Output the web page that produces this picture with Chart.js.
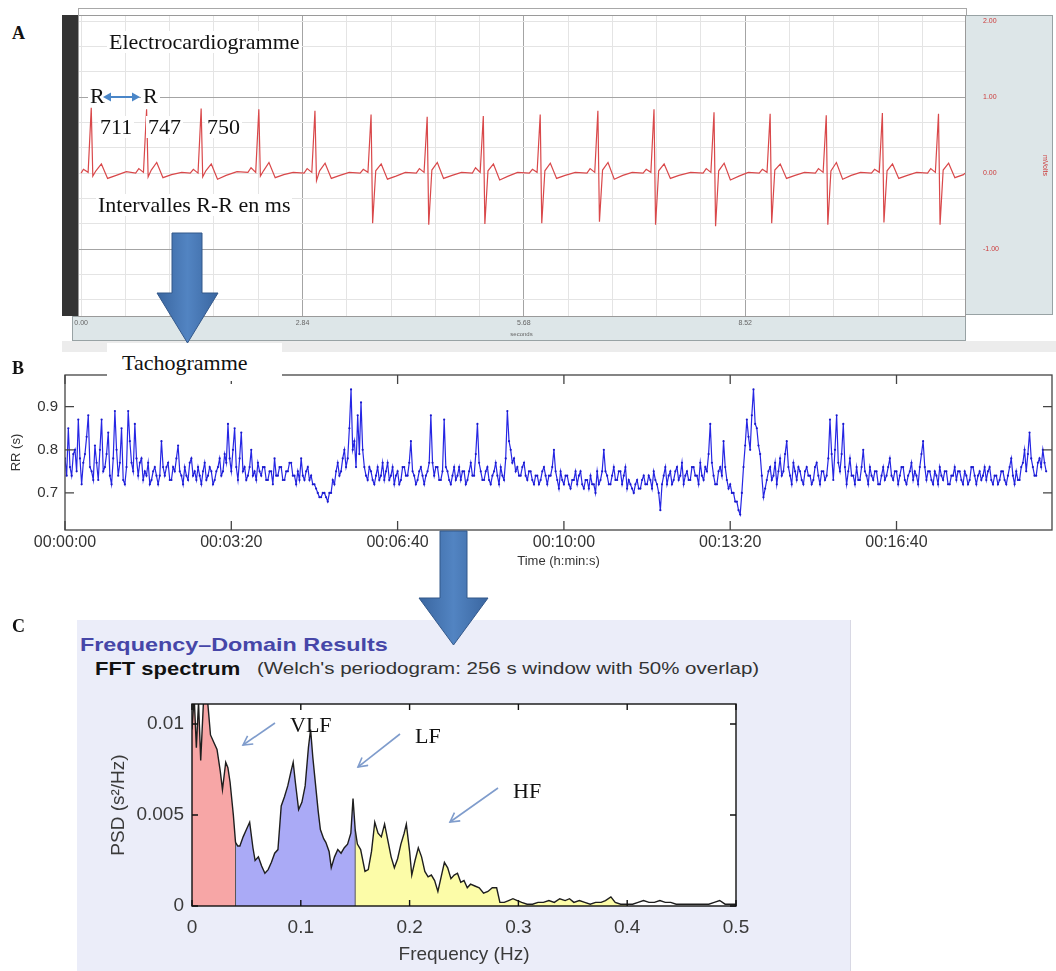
<!DOCTYPE html>
<html lang="fr">
<head>
<meta charset="UTF-8">
<title>ECG, tachogramme et spectre FFT</title>
<script src="https://cdn.jsdelivr.net/npm/chart.js"></script>
<style>
  body { margin: 0; background: #fff; }
  #page { position: relative; width: 1056px; height: 971px; overflow: hidden; }
  .box { position: absolute; }
  .txt { position: absolute; white-space: nowrap; line-height: 1; }
  .serif { font-family: "Liberation Serif", serif; color: #111; }
  .sans { font-family: "Liberation Sans", Arial, sans-serif; }
  .white { background: #fff; padding: 0 2px; }
  .stretch { transform-origin: 0 50%; display: inline-block; }
</style>
</head>
<body>
<div id="page">
  <!-- fond lavande du panneau C -->
  <div class="box" style="left:77px;top:620px;width:773px;height:351px;background:#ebedf9;border-right:1px solid #d8d8e4;"></div>

  <div class="box" style="left:62px;top:0;width:994px;height:352px;"><canvas id="ecg"></canvas></div>
  <div class="box" style="left:0;top:340px;width:1056px;height:235px;"><canvas id="tacho"></canvas></div>
  <div class="box" style="left:77px;top:690px;width:773px;height:281px;"><canvas id="psd"></canvas></div>

  <!-- textes -->
  <div class="txt serif" style="left:12px;top:24px;font-size:18px;font-weight:bold;">A</div>
  <div class="txt serif" style="left:12px;top:359px;font-size:18px;font-weight:bold;">B</div>
  <div class="txt serif" style="left:12px;top:617px;font-size:18px;font-weight:bold;">C</div>

  <div class="txt serif white" style="left:107px;top:31px;font-size:22px;">Electrocardiogramme</div>
  <div class="txt serif white" style="left:88px;top:85px;font-size:22px;">R</div>
  <div class="txt serif white" style="left:141px;top:85px;font-size:22px;">R</div>
  <div class="txt serif white" style="left:98px;top:116px;font-size:22px;">711</div>
  <div class="txt serif white" style="left:146px;top:116px;font-size:22px;">747</div>
  <div class="txt serif white" style="left:205px;top:116px;font-size:22px;">750</div>
  <div class="txt serif white" style="left:96px;top:194px;font-size:22px;">Intervalles R-R en ms</div>

  <div class="box" style="left:107px;top:343px;width:175px;height:38px;background:#fff;"></div>
  <div class="txt serif" style="left:122px;top:352px;font-size:22px;">Tachogramme</div>

  <div class="txt sans" style="left:80px;top:635px;font-size:19px;font-weight:bold;color:#4646a8;">
    <span class="stretch" style="transform:scaleX(1.23);">Frequency&ndash;Domain Results</span></div>
  <div class="txt sans" style="left:95px;top:660px;font-size:18px;font-weight:bold;color:#111;">
    <span class="stretch" style="transform:scaleX(1.22);">FFT spectrum</span></div>
  <div class="txt sans" style="left:257px;top:661px;font-size:16px;color:#333;">
    <span class="stretch" style="transform:scaleX(1.28);">(Welch's periodogram: 256 s window with 50% overlap)</span></div>

  <div class="txt serif" style="left:290px;top:714px;font-size:22px;">VLF</div>
  <div class="txt serif" style="left:415px;top:725px;font-size:22px;">LF</div>
  <div class="txt serif" style="left:513px;top:780px;font-size:22px;">HF</div>

  <svg class="box" style="left:0;top:0;" width="1056" height="971">
    <defs>
      <linearGradient id="bigArrow" x1="0" y1="0" x2="1" y2="0">
        <stop offset="0" stop-color="#3a66a0"/>
        <stop offset="0.5" stop-color="#5284c2"/>
        <stop offset="1" stop-color="#3a66a0"/>
      </linearGradient>
      <marker id="openHead" markerWidth="12" markerHeight="12" refX="10" refY="6" orient="auto" markerUnits="userSpaceOnUse">
        <path d="M1,1 L10,6 L1,11" fill="none" stroke="#7f9ccc" stroke-width="1.6"/>
      </marker>
    </defs>
    <polygon points="172,233 202,233 202,293 218,293 187.5,343 157,293 172,293" fill="url(#bigArrow)" stroke="#33588a" stroke-width="1"/>
    <polygon points="440,531 467,531 467,598 488,598 453.5,645 419,598 440,598" fill="url(#bigArrow)" stroke="#33588a" stroke-width="1"/>
    <line x1="109" y1="97" x2="134" y2="97" stroke="#4a86c8" stroke-width="2"/>
    <polygon points="103,97 111,92.5 111,101.5" fill="#4a86c8"/>
    <polygon points="140,97 132,92.5 132,101.5" fill="#4a86c8"/>
    <line x1="275" y1="723" x2="243" y2="745" stroke="#7f9ccc" stroke-width="1.6" marker-end="url(#openHead)"/>
    <line x1="400" y1="734" x2="358" y2="767" stroke="#7f9ccc" stroke-width="1.6" marker-end="url(#openHead)"/>
    <line x1="498" y1="788" x2="450" y2="822" stroke="#7f9ccc" stroke-width="1.6" marker-end="url(#openHead)"/>
  </svg>
</div>

<script>
// ---- A : électrocardiogramme (temps en s, tension en mV) ----
const ecgTime = [
  0.00, 0.03, 0.09, 0.13, 0.15, 0.19, 0.26, 0.34, 0.45, 0.58,
  0.70, 0.74, 0.80, 0.84, 0.86, 0.90, 0.97, 1.05, 1.16, 1.29,
  1.40, 1.44, 1.50, 1.54, 1.56, 1.60, 1.67, 1.75, 1.86, 2.00,
  2.14, 2.18, 2.24, 2.28, 2.30, 2.34, 2.41, 2.49, 2.60, 2.72,
  2.86, 2.90, 2.96, 3.00, 3.02, 3.06, 3.13, 3.21, 3.32, 3.44,
  3.58, 3.62, 3.68, 3.72, 3.74, 3.78, 3.85, 3.93, 4.04, 4.16,
  4.30, 4.34, 4.40, 4.44, 4.46, 4.50, 4.57, 4.65, 4.76, 4.88,
  5.02, 5.06, 5.12, 5.16, 5.18, 5.22, 5.29, 5.37, 5.48, 5.60,
  5.75, 5.79, 5.85, 5.89, 5.91, 5.95, 6.02, 6.10, 6.21, 6.34,
  6.49, 6.53, 6.59, 6.63, 6.65, 6.69, 6.76, 6.84, 6.95, 7.07,
  7.21, 7.25, 7.31, 7.35, 7.37, 7.41, 7.48, 7.56, 7.67, 7.82,
  7.98, 8.02, 8.08, 8.12, 8.14, 8.18, 8.25, 8.33, 8.44, 8.56,
  8.70, 8.74, 8.80, 8.84, 8.86, 8.90, 8.97, 9.05, 9.16, 9.28,
  9.42, 9.46, 9.52, 9.56, 9.58, 9.62, 9.69, 9.77, 9.88, 10.00,
  10.14, 10.18, 10.24, 10.28, 10.30, 10.34, 10.41, 10.49, 10.60, 10.72,
  10.86, 10.90, 10.96, 11.00, 11.02, 11.06, 11.13, 11.21, 11.32, 11.34
];
const ecgMv = [
  0.00, 0.05, 0.01, 0.86, -0.04, 0.03, 0.12, -0.07, -0.03, 0.02,
  0.00, 0.06, 0.01, 0.84, -0.05, 0.04, 0.14, -0.06, -0.02, 0.01,
  0.00, 0.05, 0.00, 0.85, -0.05, 0.03, 0.12, -0.08, -0.03, 0.02,
  0.01, 0.07, 0.01, 0.84, -0.04, 0.03, 0.14, -0.06, -0.02, 0.01,
  0.00, 0.06, 0.01, 0.82, -0.10, 0.03, 0.13, -0.07, -0.03, 0.01,
  0.00, 0.05, 0.01, 0.77, -0.66, 0.03, 0.12, -0.08, -0.04, 0.01,
  0.00, 0.06, 0.01, 0.74, -0.68, 0.04, 0.14, -0.07, -0.03, 0.01,
  0.00, 0.07, 0.01, 0.75, -0.67, 0.03, 0.12, -0.09, -0.04, 0.01,
  0.00, 0.05, 0.01, 0.77, -0.66, 0.03, 0.13, -0.07, -0.03, 0.01,
  0.00, 0.06, 0.01, 0.82, -0.64, 0.04, 0.14, -0.08, -0.03, 0.01,
  0.00, 0.05, 0.01, 0.84, -0.68, 0.03, 0.12, -0.07, -0.03, 0.01,
  0.00, 0.06, 0.01, 0.80, -0.70, 0.03, 0.13, -0.09, -0.04, 0.01,
  0.00, 0.05, 0.01, 0.78, -0.66, 0.04, 0.12, -0.07, -0.03, 0.01,
  0.00, 0.06, 0.01, 0.76, -0.68, 0.03, 0.14, -0.08, -0.03, 0.01,
  0.00, 0.05, 0.01, 0.79, -0.65, 0.03, 0.12, -0.07, -0.03, 0.01,
  0.00, 0.06, 0.01, 0.78, -0.68, 0.04, 0.13, -0.06, -0.02, 0.00
];
const ecgXStep = 0.568;                       // une division de la grille
const ecgXLabels = ['0.00', '2.84', '5.68', '8.52'];
const ecgYMajor = [-1, 0, 1, 2];
const ecgYLabels = ['-1.00', '0.00', '1.00', '2.00'];

// ---- B : tachogramme, un intervalle RR toutes les 2 s (une ligne = 40 s) ----
const tachoStep = 2;
const tachoRR = [
  0.78, 0.74, 0.85, 0.76, 0.74, 0.79, 0.80, 0.75, 0.87, 0.78, 0.72, 0.77, 0.79, 0.83, 0.88, 0.76, 0.75, 0.73, 0.81, 0.77,
  0.73, 0.80, 0.87, 0.75, 0.76, 0.79, 0.84, 0.74, 0.72, 0.78, 0.89, 0.80, 0.74, 0.77, 0.85, 0.73, 0.72, 0.76, 0.89, 0.82,
  0.77, 0.75, 0.86, 0.78, 0.74, 0.77, 0.78, 0.73, 0.75, 0.74, 0.77, 0.72, 0.73, 0.75, 0.76, 0.74, 0.72, 0.74, 0.82, 0.76,
  0.74, 0.76, 0.77, 0.73, 0.73, 0.76, 0.75, 0.78, 0.81, 0.75, 0.74, 0.72, 0.76, 0.74, 0.73, 0.77, 0.78, 0.74, 0.75, 0.73,
  0.76, 0.74, 0.72, 0.75, 0.77, 0.73, 0.74, 0.76, 0.75, 0.72, 0.73, 0.75, 0.76, 0.78, 0.74, 0.75, 0.79, 0.77, 0.86, 0.78,
  0.75, 0.80, 0.85, 0.76, 0.73, 0.78, 0.84, 0.75, 0.76, 0.73, 0.74, 0.76, 0.80, 0.74, 0.75, 0.73, 0.77, 0.75, 0.74, 0.76,
  0.76, 0.73, 0.73, 0.75, 0.75, 0.72, 0.78, 0.74, 0.74, 0.76, 0.76, 0.73, 0.73, 0.75, 0.75, 0.77, 0.77, 0.74, 0.74, 0.72,
  0.75, 0.73, 0.78, 0.74, 0.73, 0.75, 0.76, 0.73, 0.74, 0.72, 0.72, 0.71, 0.70, 0.69, 0.69, 0.70, 0.70, 0.69, 0.68, 0.70,
  0.70, 0.73, 0.72, 0.75, 0.77, 0.74, 0.75, 0.78, 0.80, 0.76, 0.78, 0.85, 0.94, 0.80, 0.82, 0.76, 0.88, 0.79, 0.91, 0.80,
  0.76, 0.74, 0.73, 0.76, 0.75, 0.73, 0.72, 0.74, 0.76, 0.73, 0.74, 0.77, 0.73, 0.75, 0.77, 0.73, 0.74, 0.76, 0.72, 0.74,
  0.75, 0.72, 0.73, 0.76, 0.76, 0.74, 0.74, 0.77, 0.82, 0.75, 0.74, 0.72, 0.73, 0.75, 0.76, 0.74, 0.72, 0.74, 0.75, 0.77,
  0.88, 0.77, 0.74, 0.76, 0.76, 0.73, 0.73, 0.75, 0.87, 0.76, 0.75, 0.73, 0.72, 0.74, 0.76, 0.73, 0.74, 0.76, 0.73, 0.75,
  0.75, 0.72, 0.73, 0.75, 0.77, 0.74, 0.74, 0.79, 0.86, 0.77, 0.75, 0.73, 0.73, 0.75, 0.76, 0.73, 0.72, 0.74, 0.75, 0.77,
  0.74, 0.72, 0.76, 0.74, 0.73, 0.78, 0.89, 0.82, 0.80, 0.77, 0.78, 0.75, 0.76, 0.74, 0.74, 0.76, 0.77, 0.74, 0.73, 0.75,
  0.75, 0.73, 0.72, 0.74, 0.74, 0.72, 0.73, 0.75, 0.76, 0.74, 0.72, 0.74, 0.74, 0.76, 0.80, 0.75, 0.73, 0.71, 0.75, 0.73,
  0.72, 0.74, 0.74, 0.72, 0.71, 0.73, 0.73, 0.75, 0.72, 0.74, 0.75, 0.72, 0.71, 0.73, 0.73, 0.71, 0.74, 0.72, 0.72, 0.70,
  0.75, 0.72, 0.73, 0.75, 0.80, 0.75, 0.74, 0.72, 0.72, 0.74, 0.76, 0.73, 0.73, 0.75, 0.75, 0.72, 0.74, 0.76, 0.71, 0.73,
  0.72, 0.71, 0.70, 0.72, 0.73, 0.71, 0.71, 0.73, 0.74, 0.72, 0.72, 0.74, 0.73, 0.71, 0.75, 0.73, 0.72, 0.70, 0.66, 0.72,
  0.74, 0.76, 0.72, 0.74, 0.75, 0.72, 0.73, 0.75, 0.76, 0.73, 0.74, 0.77, 0.72, 0.74, 0.75, 0.73, 0.73, 0.76, 0.76, 0.74,
  0.74, 0.72, 0.77, 0.74, 0.73, 0.76, 0.75, 0.79, 0.86, 0.77, 0.74, 0.72, 0.72, 0.75, 0.76, 0.74, 0.82, 0.76, 0.73, 0.71,
  0.72, 0.70, 0.70, 0.68, 0.68, 0.66, 0.65, 0.70, 0.76, 0.81, 0.87, 0.83, 0.80, 0.88, 0.94, 0.86, 0.85, 0.81, 0.79, 0.74,
  0.69, 0.71, 0.73, 0.75, 0.76, 0.73, 0.74, 0.77, 0.72, 0.75, 0.78, 0.74, 0.75, 0.79, 0.82, 0.76, 0.74, 0.72, 0.77, 0.75,
  0.73, 0.76, 0.75, 0.73, 0.72, 0.75, 0.76, 0.74, 0.74, 0.72, 0.73, 0.76, 0.77, 0.74, 0.72, 0.75, 0.75, 0.73, 0.74, 0.78,
  0.87, 0.79, 0.73, 0.80, 0.88, 0.77, 0.75, 0.79, 0.86, 0.76, 0.72, 0.75, 0.78, 0.74, 0.74, 0.72, 0.76, 0.73, 0.73, 0.76,
  0.80, 0.75, 0.74, 0.72, 0.76, 0.74, 0.73, 0.75, 0.75, 0.72, 0.72, 0.74, 0.76, 0.73, 0.74, 0.76, 0.78, 0.74, 0.73, 0.75,
  0.75, 0.72, 0.74, 0.76, 0.76, 0.73, 0.72, 0.74, 0.75, 0.77, 0.73, 0.75, 0.74, 0.72, 0.76, 0.79, 0.82, 0.76, 0.73, 0.75,
  0.75, 0.73, 0.72, 0.75, 0.74, 0.72, 0.76, 0.74, 0.73, 0.75, 0.75, 0.72, 0.72, 0.74, 0.74, 0.76, 0.73, 0.75, 0.75, 0.73,
  0.72, 0.75, 0.74, 0.72, 0.73, 0.76, 0.76, 0.74, 0.72, 0.74, 0.75, 0.73, 0.74, 0.76, 0.73, 0.75, 0.76, 0.73, 0.72, 0.74,
  0.74, 0.72, 0.73, 0.75, 0.75, 0.73, 0.72, 0.74, 0.76, 0.78, 0.74, 0.72, 0.75, 0.73, 0.73, 0.76, 0.77, 0.80, 0.75, 0.79,
  0.84, 0.78, 0.76, 0.74, 0.74, 0.77, 0.78, 0.76, 0.80, 0.77, 0.75
];
const tachoTickSec = [0, 200, 400, 600, 800, 1000];
const tachoTickLabels = ['00:00:00', '00:03:20', '00:06:40', '00:10:00', '00:13:20', '00:16:40'];
const tachoYTicks = [0.7, 0.8, 0.9];
const tachoYLabels = ['0.7', '0.8', '0.9'];

// ---- C : spectre FFT (Hz, s²/Hz) ----
const specFreq = [
  0.000, 0.002, 0.004, 0.006, 0.008, 0.011, 0.014, 0.017, 0.020, 0.023,
  0.026, 0.028, 0.031, 0.033, 0.035, 0.038, 0.040, 0.042, 0.044, 0.047,
  0.050, 0.053, 0.056, 0.058, 0.061, 0.064, 0.067, 0.070, 0.073, 0.076,
  0.079, 0.082, 0.085, 0.088, 0.091, 0.093, 0.095, 0.098, 0.101, 0.104,
  0.107, 0.109, 0.111, 0.113, 0.116, 0.118, 0.121, 0.123, 0.126, 0.128,
  0.131, 0.134, 0.137, 0.140, 0.143, 0.146, 0.148, 0.150, 0.152, 0.155,
  0.159, 0.162, 0.165, 0.168, 0.171, 0.174, 0.177, 0.180, 0.183, 0.186,
  0.189, 0.192, 0.195, 0.197, 0.200, 0.202, 0.205, 0.208, 0.211, 0.214,
  0.217, 0.220, 0.223, 0.226, 0.229, 0.232, 0.235, 0.238, 0.241, 0.244,
  0.247, 0.250, 0.253, 0.256, 0.260, 0.264, 0.268, 0.272, 0.276, 0.280,
  0.283, 0.287, 0.291, 0.295, 0.299, 0.303, 0.308, 0.313, 0.318, 0.323,
  0.328, 0.333, 0.338, 0.343, 0.347, 0.351, 0.356, 0.361, 0.366, 0.371,
  0.376, 0.380, 0.385, 0.389, 0.394, 0.400, 0.405, 0.410, 0.415, 0.420,
  0.425, 0.430, 0.435, 0.440, 0.445, 0.450, 0.455, 0.460, 0.465, 0.470,
  0.475, 0.480, 0.485, 0.490, 0.495, 0.500
];
const specPsd = [
  0.0097, 0.0115, 0.0087, 0.0112, 0.0080, 0.0118, 0.0115, 0.0094, 0.0090, 0.0086,
  0.0074, 0.0064, 0.0079, 0.0076, 0.0068, 0.0050, 0.0035, 0.0033, 0.0033, 0.0038,
  0.0042, 0.0046, 0.0032, 0.0025, 0.0027, 0.0022, 0.0018, 0.0020, 0.0024, 0.0029,
  0.0031, 0.0055, 0.0060, 0.0066, 0.0074, 0.0079, 0.0068, 0.0053, 0.0057, 0.0066,
  0.0087, 0.0097, 0.0082, 0.0070, 0.0052, 0.0042, 0.0037, 0.0035, 0.0030, 0.0021,
  0.0027, 0.0031, 0.0029, 0.0032, 0.0034, 0.0040, 0.0059, 0.0042, 0.0034, 0.0031,
  0.0019, 0.0020, 0.0030, 0.0046, 0.0040, 0.0038, 0.0045, 0.0036, 0.0027, 0.0021,
  0.0026, 0.0034, 0.0040, 0.0045, 0.0030, 0.0017, 0.0025, 0.0032, 0.0027, 0.0019,
  0.0016, 0.0017, 0.0014, 0.0008, 0.0016, 0.0024, 0.0021, 0.0015, 0.0017, 0.0018,
  0.0013, 0.0014, 0.0010, 0.0012, 0.0011, 0.0010, 0.0007, 0.0008, 0.0010, 0.0010,
  0.0002, 0.0002, 0.0003, 0.0004, 0.0003, 0.0002, 0.0001, 0.0001, 0.0002, 0.0002,
  0.0003, 0.0002, 0.0004, 0.0003, 0.0004, 0.0002, 0.0003, 0.0002, 0.0001, 0.0002,
  0.0002, 0.0003, 0.0005, 0.0002, 0.0001, 0.0001, 0.0001, 0.0002, 0.0003, 0.0002,
  0.0002, 0.0003, 0.0002, 0.0002, 0.0001, 0.0001, 0.0001, 0.0001, 0.0001, 0.0001,
  0.0001, 0.0002, 0.0003, 0.0001, 0.0001, 0.0001
];
const bandNames = ['VLF', 'LF', 'HF'];
const bandEdges = [0, 0.04, 0.15, 0.40];
const bandColors = ['#f7a6a6', '#aaaaf6', '#fcfca8'];
const specXTicks = [0, 0.1, 0.2, 0.3, 0.4, 0.5];
const specXLabels = ['0', '0.1', '0.2', '0.3', '0.4', '0.5'];
const specYTicks = [0, 0.005, 0.01];
const specYLabels = ['0', '0.005', '0.01'];

Chart.defaults.font.family = "'Liberation Sans', Arial, sans-serif";
Chart.defaults.animation = false;

// taille fixe des axes, sans marge automatique
function fixAxis(size) {
    return function (s) {
        if (s.isHorizontal()) s.height = size; else s.width = size;
        s.paddingTop = 0; s.paddingBottom = 0; s.paddingLeft = 0; s.paddingRight = 0;
    };
}

// cadre type MATLAB avec graduations vers l'intérieur
function matlabBox(color, width, len, xTicks, yTicks) {
    return {
        id: 'box',
        afterDraw(chart) {
            const { ctx, chartArea: a, scales } = chart;
            ctx.save();
            ctx.strokeStyle = color;
            ctx.lineWidth = width;
            ctx.strokeRect(a.left, a.top, a.right - a.left, a.bottom - a.top);
            ctx.beginPath();
            xTicks.forEach(v => {
                const px = scales.x.getPixelForValue(v);
                ctx.moveTo(px, a.bottom); ctx.lineTo(px, a.bottom - len);
                ctx.moveTo(px, a.top); ctx.lineTo(px, a.top + len);
            });
            yTicks.forEach(v => {
                const py = scales.y.getPixelForValue(v);
                ctx.moveTo(a.left, py); ctx.lineTo(a.left + len, py);
                ctx.moveTo(a.right, py); ctx.lineTo(a.right - len, py);
            });
            ctx.stroke();
            ctx.restore();
        }
    };
}

// fond de l'enregistreur ECG (panneaux d'axes gris-bleu)
const ecgBackground = {
    id: 'ecgBackground',
    beforeDraw(chart) {
        const { ctx, chartArea: a, width } = chart;
        ctx.save();
        ctx.fillStyle = '#ececec';
        ctx.fillRect(0, a.bottom + 25, width, 20);
        ctx.fillStyle = '#333';
        ctx.fillRect(0, a.top, 16, a.bottom - a.top);
        ctx.fillStyle = '#dde6e8';
        ctx.strokeStyle = '#98a2a4';
        ctx.lineWidth = 1;
        ctx.fillRect(10, a.bottom, a.right - 10, 25);
        ctx.strokeRect(10.5, a.bottom + 0.5, a.right - 10, 24);
        ctx.fillRect(a.right, a.top, 990 - a.right, a.bottom - a.top - 1);
        ctx.strokeRect(a.right + 0.5, a.top + 0.5, 990 - a.right, a.bottom - a.top - 2);
        ctx.strokeStyle = '#a8a8a8';
        ctx.beginPath();
        ctx.moveTo(16, 8.5); ctx.lineTo(a.right + 1, 8.5);
        ctx.moveTo(16.5, 8); ctx.lineTo(16.5, a.top);
        ctx.moveTo(a.right + 1.5, 8); ctx.lineTo(a.right + 1.5, a.top);
        ctx.stroke();
        ctx.restore();
    },
    afterDraw(chart) {
        const { ctx, chartArea: a } = chart;
        ctx.save();
        ctx.strokeStyle = '#9a9a9a';
        ctx.lineWidth = 1;
        ctx.strokeRect(a.left + 0.5, a.top + 0.5, a.right - a.left, a.bottom - a.top);
        ctx.restore();
    }
};

new Chart(document.getElementById('ecg'), {
    type: 'line',
    data: {
        datasets: [{
            data: ecgTime.map((t, i) => ({ x: t, y: ecgMv[i] })),
            borderColor: '#d9484a',
            borderWidth: 1.2,
            pointRadius: 0,
            tension: 0
        }]
    },
    options: {
        responsive: true,
        maintainAspectRatio: false,
        layout: { padding: { left: 16, top: 15, right: 4, bottom: 11 } },
        plugins: { legend: { display: false }, tooltip: { enabled: false } },
        scales: {
            x: {
                type: 'linear', min: -0.04, max: 11.34,
                afterBuildTicks: s => {
                    s.ticks = [];
                    for (let k = 0; k < 20; k++) s.ticks.push({ value: k * ecgXStep });
                },
                afterFit: fixAxis(25),
                grid: {
                    drawTicks: false,
                    color: c => (c.index % 5 === 0 && c.index > 0) ? '#a4a4a4' : '#e4e4e4'
                },
                border: { display: false },
                ticks: {
                    autoSkip: false, maxRotation: 0, padding: 3, color: '#666',
                    font: { size: 7 },
                    callback: (v, i) => i % 5 === 0 ? ecgXLabels[i / 5] : ''
                },
                title: { display: true, text: 'seconds', color: '#666', font: { size: 6 }, padding: { top: 0, bottom: 3 } }
            },
            y: {
                position: 'right', min: -1.88, max: 2.08,
                afterBuildTicks: s => {
                    s.ticks = [];
                    for (let k = -5; k <= 6; k++) s.ticks.push({ value: k / 3 });
                },
                afterFit: fixAxis(87),
                grid: {
                    drawTicks: false,
                    color: c => Math.abs(Math.abs(c.tick.value) - 1) < 1e-6 ? '#a4a4a4' : '#e4e4e4'
                },
                border: { display: false },
                ticks: {
                    autoSkip: false, padding: 18, color: '#cc3b3b', font: { size: 7 },
                    callback: v => {
                        const i = ecgYMajor.findIndex(m => Math.abs(m - v) < 1e-6);
                        return i >= 0 ? ecgYLabels[i] : '';
                    }
                },
                title: { display: true, text: 'mVolts', color: '#cc3b3b', font: { size: 7 }, padding: { top: 3, bottom: 0 } }
            }
        }
    },
    plugins: [ecgBackground]
});

new Chart(document.getElementById('tacho'), {
    type: 'line',
    data: {
        datasets: [{
            data: tachoRR.map((v, i) => ({ x: i * tachoStep, y: v })),
            borderColor: '#2626e4',
            borderWidth: 1.2,
            pointRadius: 1.1,
            pointBorderWidth: 0,
            pointBackgroundColor: '#1a1acc',
            tension: 0
        }]
    },
    options: {
        responsive: true,
        maintainAspectRatio: false,
        layout: { padding: { left: 0, top: 35, right: 2, bottom: 0 } },
        plugins: { legend: { display: false }, tooltip: { enabled: false } },
        scales: {
            x: {
                type: 'linear', min: 0, max: 1187,
                afterBuildTicks: s => { s.ticks = tachoTickSec.map(v => ({ value: v })); },
                afterFit: fixAxis(45),
                grid: { display: false, drawTicks: false },
                border: { display: false },
                ticks: {
                    autoSkip: false, maxRotation: 0, padding: 3, color: '#333', font: { size: 16 },
                    callback: (v, i) => tachoTickLabels[i]
                },
                title: { display: true, text: 'Time (h:min:s)', color: '#333', font: { size: 13 }, padding: { top: 0, bottom: 6 } }
            },
            y: {
                min: 0.614, max: 0.9735,
                afterBuildTicks: s => { s.ticks = tachoYTicks.map(v => ({ value: v })); },
                afterFit: fixAxis(65),
                grid: { display: false, drawTicks: false },
                border: { display: false },
                ticks: {
                    autoSkip: false, padding: 7, color: '#333', font: { size: 15 },
                    callback: (v, i) => tachoYLabels[i]
                },
                title: { display: true, text: 'RR (s)', color: '#333', font: { size: 13 }, padding: { top: 9, bottom: 0 } }
            }
        }
    },
    plugins: [matlabBox('#444', 1.3, 9, tachoTickSec, tachoYTicks)]
});

// séries du spectre : la courbe, puis une aire par bande
const specPoints = specFreq.map((f, i) => ({ x: f, y: specPsd[i] }));
const bandSets = bandNames.map((name, b) => ({
    label: name,
    data: specPoints.filter(p => p.x >= bandEdges[b] && p.x <= bandEdges[b + 1]),
    backgroundColor: bandColors[b],
    borderWidth: 0,
    pointRadius: 0,
    fill: 'origin',
    tension: 0
}));

const bandEdgeLines = {
    id: 'bandEdgeLines',
    beforeDatasetDraw(chart, args) {
        if (args.index !== 0) return;
        const { ctx, scales: { x, y } } = chart;
        ctx.save();
        ctx.strokeStyle = '#555';
        ctx.lineWidth = 1;
        ctx.beginPath();
        [bandEdges[1], bandEdges[2]].forEach(f => {
            const p = specPoints.find(pt => Math.abs(pt.x - f) < 1e-9);
            ctx.moveTo(x.getPixelForValue(f), y.getPixelForValue(0));
            ctx.lineTo(x.getPixelForValue(f), y.getPixelForValue(p.y));
        });
        ctx.stroke();
        ctx.restore();
    }
};

const whitePlotArea = {
    id: 'whitePlotArea',
    beforeDraw(chart) {
        const { ctx, chartArea: a } = chart;
        ctx.save();
        ctx.fillStyle = '#fff';
        ctx.fillRect(a.left, a.top, a.right - a.left, a.bottom - a.top);
        ctx.restore();
    }
};

new Chart(document.getElementById('psd'), {
    type: 'line',
    data: {
        datasets: [{
            label: 'PSD',
            data: specPoints,
            borderColor: '#1e1e1e',
            borderWidth: 1.4,
            pointRadius: 0,
            fill: false,
            tension: 0
        }].concat(bandSets)
    },
    options: {
        responsive: true,
        maintainAspectRatio: false,
        layout: { padding: { left: 25, top: 14, right: 114, bottom: 0 } },
        plugins: { legend: { display: false }, tooltip: { enabled: false } },
        scales: {
            x: {
                type: 'linear', min: 0, max: 0.5,
                afterBuildTicks: s => { s.ticks = specXTicks.map(v => ({ value: v })); },
                afterFit: fixAxis(65),
                grid: { display: false, drawTicks: false },
                border: { display: false },
                ticks: {
                    autoSkip: false, maxRotation: 0, padding: 10, color: '#3a3a3a', font: { size: 19 },
                    callback: (v, i) => specXLabels[i]
                },
                title: { display: true, text: 'Frequency (Hz)', color: '#3a3a3a', font: { size: 19 }, padding: { top: 0, bottom: 5 } }
            },
            y: {
                min: 0, max: 0.0111,
                afterBuildTicks: s => { s.ticks = specYTicks.map(v => ({ value: v })); },
                afterFit: fixAxis(90),
                grid: { display: false, drawTicks: false },
                border: { display: false },
                ticks: {
                    autoSkip: false, padding: 8, color: '#3a3a3a', font: { size: 19 },
                    callback: (v, i) => specYLabels[i]
                },
                title: { display: true, text: 'PSD (s²/Hz)', color: '#3a3a3a', font: { size: 19 }, padding: { top: 5, bottom: 0 } }
            }
        }
    },
    plugins: [whitePlotArea, bandEdgeLines, matlabBox('#111', 1.4, 6, specXTicks, specYTicks)]
});
</script>
</body>
</html>
